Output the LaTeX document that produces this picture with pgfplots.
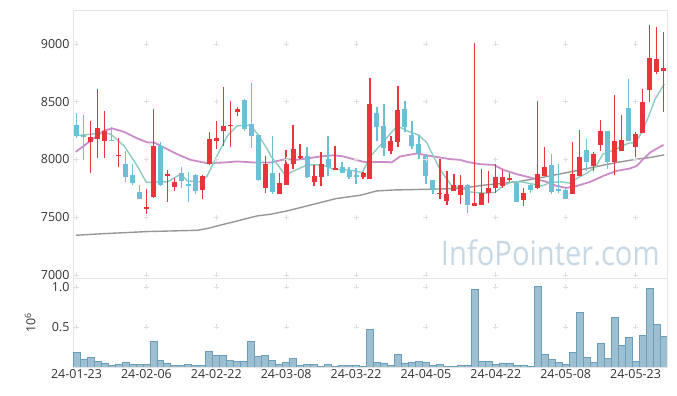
\documentclass[border=0pt]{standalone}
\usepackage{fontspec}
\setmainfont{Open Sans}
\usepackage{pgfplots}
\pgfplotsset{compat=1.18}
\usepackage{pgfplotstable}
\definecolor{cred}{RGB}{232,52,58}
\definecolor{cblue}{RGB}{108,192,214}
\definecolor{mateal}{RGB}{140,204,192}
\definecolor{mapurple}{RGB}{204,140,200}
\definecolor{magray}{RGB}{150,150,150}
\definecolor{volfill}{RGB}{156,192,210}
\definecolor{voledge}{RGB}{108,158,184}
\definecolor{framec}{RGB}{228,228,228}
\definecolor{gridc}{RGB}{222,222,222}
\definecolor{wm}{RGB}{200,216,228}

\pgfplotstableread{
i o h l c
2 8147 8335 7887 8193
3 8176 8609 8017 8269
4 8161 8421 8017 8243
6 8031 8182 7936 8043
10 7569 7742 7532 7592
11 7675 8433 7670 8115
13 7858 7907 7636 7873
14 7763 7840 7728 7803
18 7734 7864 7656 7858
19 7957 8239 7955 8176
20 8161 8335 8089 8190
21 8243 8624 8118 8289
22 8286 8508 8104 8300
23 8407 8456 8373 8436
27 7754 8031 7714 7959
29 7705 7881 7699 7795
30 7783 8083 7780 7959
31 7957 8297 7916 8089
32 8009 8130 8005 8029
34 7801 7951 7771 7853
35 7849 8061 7771 7959
37 7913 8118 7910 7927
41 7849 7890 7829 7887
42 7835 8702 7830 8479
45 8075 8199 8046 8159
46 8153 8633 8104 8427
52 7699 8003 7656 7714
53 7641 7901 7604 7705
54 7728 7873 7725 7777
55 7693 7864 7612 7783
57 7598 9006 7595 7627
58 7606 7916 7603 7714
59 7708 7901 7627 7757
60 7754 7959 7714 7844
61 7771 7910 7757 7844
62 7823 7887 7801 7840
64 7650 7757 7598 7708
66 7754 8508 7742 7873
67 7858 8104 7855 7931
71 7705 8147 7702 7873
72 7858 8257 7855 8023
74 7945 8061 7901 8046
75 8127 8341 8075 8245
77 7979 8557 7864 8159
78 8075 8384 8072 8167
80 8109 8234 8003 8219
81 8228 8609 8225 8499
82 8603 9164 8494 8878
83 8760 9144 8740 8870
84 8766 9101 8407 8792
}\upc

\pgfplotstableread{
i o h l c
0 8297 8399 8182 8205
1 8210 8384 7994 8198
5 8172 8277 8160 8162
7 7959 8075 7801 7849
8 7864 7965 7777 7797
9 7716 7777 7655 7662
12 8118 8150 7770 7783
15 7884 7931 7757 7811
16 7785 7892 7636 7771
17 7869 7875 7699 7728
24 8515 8520 8250 8260
25 8306 8662 8100 8205
26 8211 8215 7818 7823
28 7887 8205 7699 7719
33 8026 8109 7840 7844
36 8003 8205 7853 7931
38 7931 7974 7880 7884
39 7901 7931 7835 7844
40 7862 7922 7786 7852
43 8401 8451 8161 8283
44 8286 8477 8031 8101
47 8436 8503 8234 8277
48 8211 8335 8089 8113
49 8133 8211 8003 8052
50 8031 8046 7786 7858
51 7821 7825 7699 7734
56 7783 7786 7541 7606
63 7795 7815 7630 7632
65 7783 7786 7708 7736
68 7951 8046 7699 7719
69 7742 7965 7714 7728
70 7734 7757 7660 7662
73 8081 8176 7901 7979
76 8245 8248 7916 7979
79 8445 8696 8158 8161
}\downc

\pgfplotstableread{
i v
0 0.186
1 0.099
2 0.124
3 0.074
4 0.050
5 0.025
6 0.037
7 0.062
8 0.037
9 0.037
10 0.037
11 0.322
12 0.087
13 0.050
14 0.025
15 0.025
16 0.037
17 0.025
18 0.025
19 0.198
20 0.149
21 0.149
22 0.087
23 0.074
24 0.074
25 0.322
26 0.136
27 0.149
28 0.087
29 0.037
30 0.062
31 0.112
32 0.025
33 0.037
34 0.037
35 0.012
36 0.037
37 0.010
38 0.025
39 0.025
40 0.025
41 0.012
42 0.471
43 0.062
44 0.050
45 0.025
46 0.161
47 0.050
48 0.062
49 0.074
50 0.062
51 0.025
52 0.037
53 0.012
54 0.012
55 0.025
56 0.025
57 0.967
58 0.074
59 0.074
60 0.037
61 0.050
62 0.050
63 0.025
64 0.025
65 0.012
66 1.004
67 0.161
68 0.099
69 0.062
70 0.037
71 0.186
72 0.682
73 0.124
74 0.062
75 0.298
76 0.112
77 0.620
78 0.273
79 0.372
80 0.074
81 0.397
82 0.979
83 0.533
84 0.384
}\vol

\begin{document}
\begin{tikzpicture}
\useasboundingbox (0,0) rectangle (677bp,396bp);
\begin{axis}[
  at={(73bp,118bp)}, anchor=south west,
  scale only axis, width=594bp, height=268bp,
  xmin=-0.5, xmax=84.5, ymin=6974, ymax=9294,
  xtick={0,10,...,80}, xticklabels={},
  ytick={7000,7500,8000,8500,9000},
  yticklabels={7000,7500,8000,8500,9000},
  major tick length=0,
  axis line style={framec, line width=0.8bp},
  tick label style={font=\fontsize{12.5}{14}\selectfont, text=black!80},
  /pgf/number format/assume math mode=true,
]
\node[anchor=base east, text=wm, font=\fontsize{34}{34}\selectfont, inner sep=0]
  at (rel axis cs:0.988,0.045) {\scalebox{0.86}[1]{InfoPointer.com}};
\pgfplotsinvokeforeach{0,10,20,30,40,50,60,70,80}{
  \addplot[only marks, mark=+, mark size=2.5bp, gridc, line width=0.7bp, forget plot]
    coordinates {(#1,7000) (#1,7500) (#1,8000) (#1,8500) (#1,9000)};
}
% long moving average (gray)
\addplot[magray, line width=1.4bp, mark=none] coordinates {
(-0.1,7344) (3.9,7358) (10.2,7376) (17.3,7387) (18.7,7402) (20.1,7424) (23,7468)
(25.8,7511) (27.8,7526) (30.1,7554) (33.9,7612) (37.2,7662) (40.6,7690) (43,7728)
(45.4,7736) (50.1,7742) (54.9,7749) (58.2,7777) (63,7806) (67.8,7858) (72.6,7916)
(77.3,7974) (80.2,8003) (82.1,8017) (84.1,8040)};
% purple moving average
\addplot[mapurple, line width=1.8bp, mark=none] coordinates {
(-0.1,8066) (2.0,8161) (3.9,8248) (5.1,8269) (6.8,8239) (8.7,8182) (10.2,8147)
(11.1,8147) (12.5,8104) (14.4,8046) (16.3,7997) (18.7,7968) (21.1,7974) (23,7983)
(25.4,7974) (27.8,7974) (29.9,8003) (31.5,7997) (33,8009) (34.9,8026) (36.8,8037)
(38.2,8026) (39.6,8003) (41.1,7979) (42.5,7979) (44.4,7979) (45.1,7974) (46.3,8026)
(48.7,8052) (50.6,8031) (52,8017) (53.5,8003) (54.9,7997) (55.9,7979) (57.8,7959)
(59.7,7953) (61.1,7910) (63,7873) (64.9,7844) (67.3,7806) (68.7,7771) (70.1,7754)
(71.6,7771) (73.5,7806) (75.4,7858) (77.3,7901) (79.2,7922) (80.2,7945) (81.1,8003)
(82.1,8061) (84,8127)};
% teal moving average
\addplot[mateal, line width=1.4bp, mark=none] coordinates {
(-0.1,8205) (2.0,8219) (3.9,8234) (4.9,8219) (6.8,8118) (8.7,7945) (10.0,7801)
(11.6,7806) (13,7806) (14.9,7873) (15.9,7815) (17.8,7806) (18.7,7858) (20.1,8031)
(21.6,8205) (23,8291) (24.9,8297) (26.1,8205) (27.3,8089) (27.8,8031) (29.9,7864)
(31.1,7901) (33,7953) (35.1,7953) (36.8,7916) (39.2,7907) (40.9,7887) (42.1,8031)
(43.2,8104) (45.9,8291) (47.3,8248) (49,8211) (50.1,8147) (52,7916) (53.7,7771)
(54.9,7757) (56.3,7719) (58.2,7708) (59.9,7714) (61.1,7777) (62.3,7806) (63.7,7806)
(65.4,7786) (66.6,7771) (67.8,7801) (69.4,7806) (70.6,7795) (71.8,7844) (73.2,7887)
(74.4,7945) (75.3,8046) (76.7,8075) (78.1,8118) (79,8141) (80,8147) (80.9,8234)
(81.9,8378) (82.8,8523) (84.1,8653)};
% wicks
\addplot[draw=none, mark=none, forget plot,
  error bars/.cd, y dir=plus, y explicit, error mark=none,
  error bar style={draw=cred, line width=1.3bp}]
  table[x=i, y=l, y error plus expr={\thisrow{h}-\thisrow{l}}] {\upc};
\addplot[draw=none, mark=none, forget plot,
  error bars/.cd, y dir=plus, y explicit, error mark=none,
  error bar style={draw=cblue, line width=1.3bp}]
  table[x=i, y=l, y error plus expr={\thisrow{h}-\thisrow{l}}] {\downc};
% bodies
\addplot[draw=none, mark=none, forget plot,
  error bars/.cd, y dir=plus, y explicit, error mark=none,
  error bar style={draw=cred, line width=5bp}]
  table[x=i, y=o, y error plus expr={\thisrow{c}-\thisrow{o}}] {\upc};
\addplot[draw=none, mark=none, forget plot,
  error bars/.cd, y dir=plus, y explicit, error mark=none,
  error bar style={draw=cblue, line width=5bp}]
  table[x=i, y=c, y error plus expr={\thisrow{o}-\thisrow{c}}] {\downc};
\end{axis}

\begin{axis}[
  at={(73bp,29bp)}, anchor=south west,
  scale only axis, width=594bp, height=89bp,
  xmin=-0.5, xmax=84.5, ymin=0, ymax=1.1125,
  xtick={0,10,...,80},
  xticklabels={24-01-23,24-02-06,24-02-22,24-03-08,24-03-22,24-04-05,24-04-22,24-05-08,24-05-23},
  ytick={0.5,1.0}, yticklabels={0.5,1.0},
  major tick length=0,
  axis line style={framec, line width=0.8bp},
  tick label style={font=\fontsize{12.5}{14}\selectfont, text=black!80},
  xticklabel style={yshift=1bp},
  ylabel={10\textsuperscript{6}},
  ylabel style={at={(axis description cs:-0.072,0.5)}, anchor=center,
    font=\fontsize{12.5}{14}\selectfont, text=black!80},
  /pgf/number format/assume math mode=true,
]
\pgfplotsinvokeforeach{0,10,20,30,40,50,60,70,80}{
  \addplot[only marks, mark=+, mark size=2.5bp, gridc, line width=0.7bp, forget plot]
    coordinates {(#1,0.5) (#1,1.0)};
}
\addplot[ybar, bar width=1, fill=volfill, draw=voledge, line width=0.7bp]
  table[x=i, y=v] {\vol};
\end{axis}
\end{tikzpicture}
\end{document}
